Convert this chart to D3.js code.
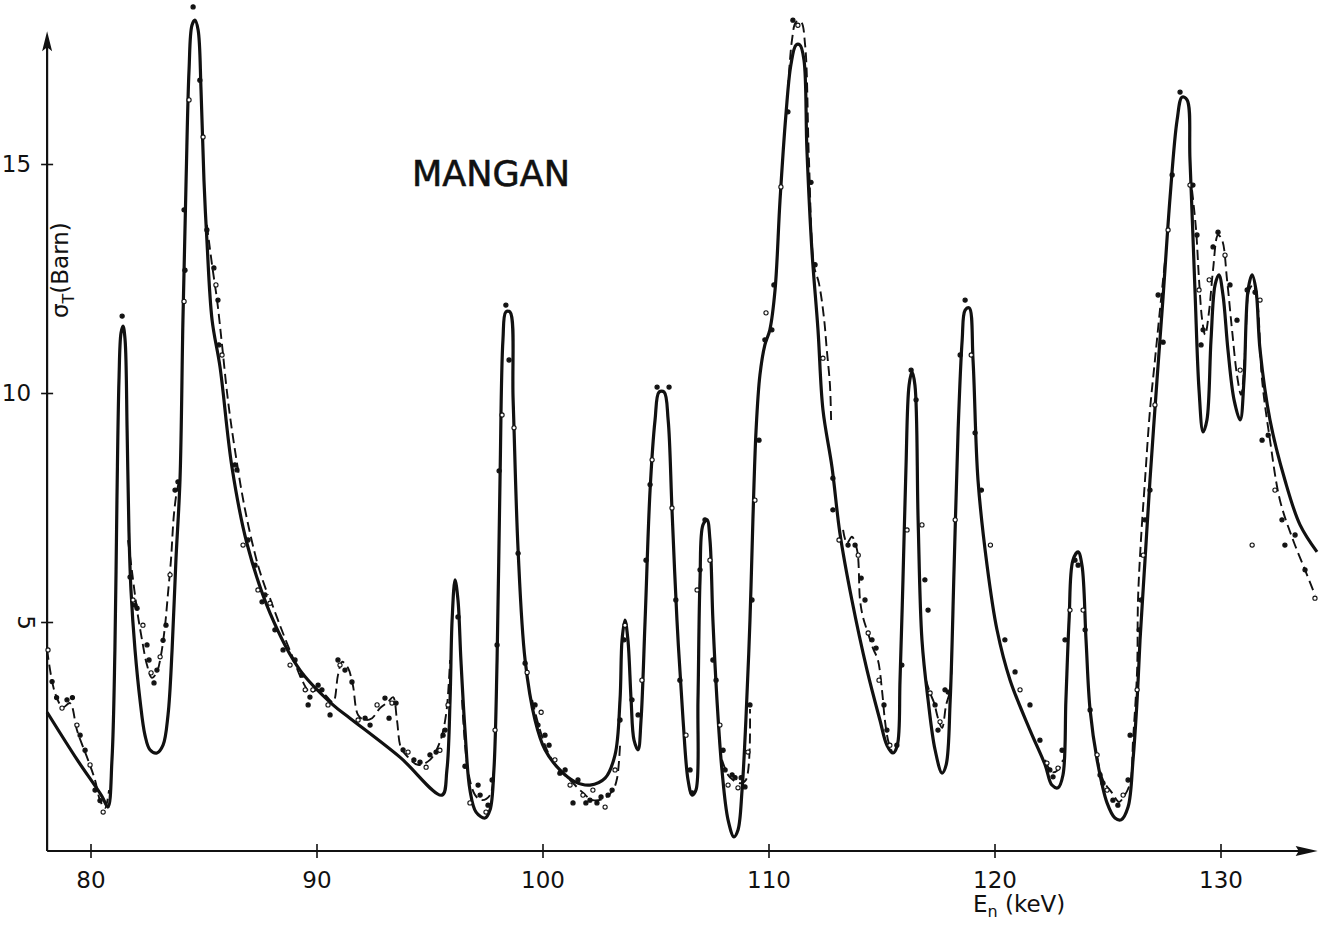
<!DOCTYPE html>
<html><head><meta charset="utf-8">
<script src="https://cdn.jsdelivr.net/npm/d3@7"></script>
<style>body{margin:0;background:#fff}svg{display:block}</style>
</head><body><svg id="c" width="1322" height="930"></svg>
<script>
const xTicks=[80,90,100,110,120,130];
const yTicks=[5,10,15];
const xRange=[78.08,134.3];
const yTop=17.9;
// theoretical (solid) curve: [E keV, sigma barn]
const theory=[[78.08,3.03],[79.4,2.0],[80.5,1.2],[80.77,0.96],[80.95,1.99],[81.08,4.39],[81.17,7.66],[81.26,10.28],[81.35,11.31],[81.44,11.46],[81.53,11.16],[81.62,9.19],[81.7,7.01],[81.79,5.7],[81.97,4.39],[82.19,3.3],[82.41,2.53],[82.63,2.21],[82.94,2.14],[83.21,2.31],[83.43,2.97],[83.61,4.39],[83.78,6.35],[83.96,8.1],[84.09,11.59],[84.23,14.65],[84.36,17.05],[84.49,18.03],[84.62,18.14],[84.76,17.93],[84.89,16.62],[85.02,14.65],[85.15,13.34],[85.38,11.59],[85.73,10.57],[86.26,8.38],[86.92,6.72],[87.94,5.2],[89.27,3.95],[90.73,3.19],[91.48,2.9],[93.69,2.05],[95.55,1.22],[95.77,1.77],[95.91,3.3],[96.0,5.04],[96.13,5.92],[96.26,5.48],[96.39,4.17],[96.57,2.64],[96.79,1.33],[97.06,0.85],[97.46,0.72],[97.68,0.9],[97.85,1.77],[97.99,4.17],[98.12,8.1],[98.25,11.16],[98.38,11.77],[98.56,11.77],[98.7,9.85],[98.92,6.57],[99.23,4.17],[99.67,2.86],[100.11,2.21],[100.77,1.77],[101.44,1.51],[102.1,1.44],[102.77,1.59],[103.21,2.1],[103.43,3.3],[103.52,4.61],[103.65,5.04],[103.78,4.61],[103.92,3.3],[104.05,2.42],[104.23,2.21],[104.36,2.86],[104.54,5.04],[104.76,7.88],[104.98,9.41],[105.16,10.02],[105.38,10.02],[105.56,9.41],[105.73,7.45],[105.95,5.04],[106.22,2.86],[106.44,1.55],[106.62,1.22],[106.79,1.33],[106.88,3.3],[106.97,5.92],[107.1,7.12],[107.28,7.23],[107.41,6.79],[107.54,5.04],[107.72,3.3],[107.94,1.77],[108.21,0.68],[108.47,0.31],[108.65,0.46],[108.83,1.33],[109.0,2.86],[109.18,5.04],[109.31,7.23],[109.45,9.19],[109.62,10.39],[109.84,11.05],[110.06,11.38],[110.29,12.25],[110.51,14.21],[110.77,16.07],[110.99,17.16],[111.22,17.6],[111.39,17.6],[111.57,17.27],[111.7,15.31],[111.92,13.12],[112.19,11.38],[112.41,9.63],[112.81,8.38],[113.16,6.94],[113.69,5.48],[114.36,3.95],[114.93,2.86],[115.24,2.31],[115.51,2.14],[115.7,2.31],[115.82,3.73],[115.95,5.92],[116.08,8.32],[116.22,10.17],[116.35,10.46],[116.48,10.17],[116.62,7.23],[116.79,4.61],[117.06,3.3],[117.37,2.21],[117.68,1.7],[117.86,1.88],[118.04,3.3],[118.21,6.14],[118.39,9.19],[118.57,11.16],[118.7,11.81],[118.88,11.86],[119.05,10.72],[119.27,8.1],[119.67,6.24],[120.11,4.83],[120.69,3.73],[121.57,2.64],[122.24,1.88],[122.54,1.44],[122.81,1.38],[123.03,1.66],[123.16,3.3],[123.3,5.04],[123.47,6.35],[123.7,6.53],[123.87,6.24],[124.05,4.61],[124.23,3.08],[124.54,1.99],[124.98,1.05],[125.33,0.72],[125.6,0.68],[125.91,0.96],[126.13,1.99],[126.31,3.3],[126.44,4.61],[126.66,6.35],[126.88,8.1],[127.19,10.28],[127.46,12.1],[127.77,14.28],[128.08,15.96],[128.3,16.46],[128.52,16.4],[128.65,15.09],[128.87,12.25],[129.05,10.07],[129.23,9.15],[129.4,9.41],[129.58,11.16],[129.76,12.36],[129.93,12.58],[130.11,12.14],[130.33,10.94],[130.6,9.85],[130.87,9.41],[131.04,10.28],[131.22,12.25],[131.4,12.58],[131.57,12.25],[131.75,10.94],[132.19,9.41],[132.85,8.1],[133.52,7.12],[134.27,6.53]];
// experimental (dashed) curve, visible stretches
const expA=[[78.08,4.39],[78.43,3.45],[78.78,3.14],[79.09,3.23],[79.4,2.64],[79.67,2.27],[79.89,1.99],[80.2,1.55],[80.42,1.11],[80.64,0.94],[80.82,1.33]];
const expB=[[81.66,6.79],[81.84,6.09],[82.06,5.26],[82.28,4.61],[82.5,4.06],[82.72,3.78],[82.94,3.91],[83.12,4.28],[83.3,4.93],[83.43,5.63],[83.56,6.35],[83.69,7.34],[83.83,7.88],[83.96,8.14]];
const expC=[[85.15,13.67],[85.38,12.79],[85.6,12.03],[85.82,11.05],[86.08,9.85],[86.39,8.76],[86.84,7.45],[87.41,6.24],[87.85,5.59]];
const expD=[[87.94,5.52],[88.38,4.93],[88.96,4.21],[89.36,3.73],[89.71,3.47],[90.07,3.52],[90.38,3.41],[90.73,3.25],[90.95,3.84],[91.13,4.13],[91.39,4.0],[91.61,3.62],[91.84,2.97],[92.15,2.86],[92.46,2.9],[92.81,3.12],[93.16,3.25],[93.39,3.36],[93.56,2.86],[93.74,2.25],[94.05,2.05],[94.49,1.88],[95.02,1.99],[95.46,2.38],[95.73,2.97],[95.91,4.17]];
const expE=[[96.44,3.3],[96.7,1.77],[97.02,1.22],[97.32,1.11],[97.68,1.22],[97.85,1.77]];
const expF=[[99.54,3.3],[99.89,2.64],[100.24,2.16],[100.64,1.83],[101.22,1.55],[101.79,1.27],[102.23,1.11],[102.77,1.16],[103.12,1.33],[103.3,1.59],[103.43,2.31]];
const expG=[[107.94,1.99],[108.21,1.66],[108.43,1.55],[108.74,1.48],[109.0,1.55],[109.18,3.1]];
const expH=[[110.86,16.62],[111.04,17.71],[111.22,18.1],[111.44,18.1],[111.62,17.6],[111.79,15.09],[112.01,12.79],[112.23,12.4],[112.45,11.66],[112.58,10.94],[112.72,10.17],[112.77,9.41]];
const expI=[[113.3,7.01],[113.47,6.72],[113.69,6.86],[113.92,6.57],[114.05,5.48],[114.18,5.11],[114.4,4.76],[114.62,4.43],[114.84,4.17],[115.02,3.52],[115.15,2.86],[115.29,2.42],[115.47,2.16]];
const expJ=[[116.97,3.73],[117.15,3.45],[117.33,3.23],[117.5,2.9],[117.68,2.69],[117.86,3.19],[118.04,3.52],[118.12,4.61]];
const expK=[[122.24,1.99],[122.54,1.72],[122.81,1.77],[123.03,1.99]];
const expL=[[124.54,2.05],[124.8,1.55],[125.2,1.27],[125.51,1.07],[125.69,1.16],[126.0,1.48],[126.13,2.42],[126.31,3.95],[126.35,5.48],[126.48,6.79],[126.66,8.1],[126.88,9.63],[127.1,10.72],[127.32,11.81],[127.55,12.9]];
const expM=[[128.74,14.43],[128.92,13.56],[129.05,12.47],[129.19,11.59],[129.32,11.27],[129.5,11.81],[129.67,12.69],[129.89,13.45],[130.07,13.34],[130.29,12.47],[130.51,11.38],[130.73,10.39],[130.91,9.96],[131.09,10.94],[131.27,12.25],[131.44,12.36],[131.62,12.03],[131.84,10.28],[132.19,8.97],[132.63,7.66],[133.21,6.79],[133.74,6.14],[134.18,5.59]];
const experiment=[expA,expB,expC,expD,expE,expF,expG,expH,expI,expJ,expK,expL,expM];
// measured points
const points=[[78.12,4.39],[78.3,3.7],[78.5,3.35],[78.74,3.12],[78.96,3.3],[79.2,3.35],[79.4,2.75],[79.54,2.53],[79.76,2.2],[79.98,1.88],[80.2,1.33],[80.42,1.1],[80.56,0.85],[81.4,11.68],[81.75,5.98],[81.88,5.48],[81.97,5.37],[82.06,5.3],[82.32,4.93],[82.5,4.5],[82.59,4.17],[82.68,3.89],[82.81,3.67],[82.94,3.95],[83.08,4.24],[83.21,4.6],[83.34,4.93],[83.52,6.03],[83.74,7.88],[83.87,8.06],[84.14,12.0],[84.18,12.68],[84.14,14.0],[84.36,16.4],[84.54,18.43],[84.84,16.83],[84.98,15.59],[85.15,13.56],[85.46,12.73],[85.55,12.36],[85.64,12.03],[85.68,11.05],[85.82,10.83],[86.39,8.43],[86.48,8.32],[86.75,6.68],[86.97,6.79],[87.28,6.24],[87.41,5.7],[87.59,5.44],[87.72,5.59],[87.94,5.41],[88.16,4.83],[88.52,4.39],[88.83,4.06],[89.05,4.17],[89.36,3.84],[89.5,3.52],[89.71,3.36],[89.63,3.19],[89.84,3.52],[90.07,3.62],[90.24,3.52],[90.51,3.19],[90.6,2.97],[90.95,4.17],[91.04,4.06],[91.26,3.95],[91.57,3.69],[91.84,2.86],[92.15,2.9],[92.37,2.75],[92.68,3.19],[93.03,3.34],[93.21,2.9],[93.34,3.23],[93.52,3.23],[93.83,2.21],[94.05,2.16],[94.31,1.99],[94.58,1.94],[94.85,1.83],[95.02,2.1],[95.29,2.16],[95.46,2.2],[95.6,2.53],[95.69,2.64],[95.82,3.19],[96.26,5.11],[96.57,1.85],[96.79,1.05],[97.15,1.44],[97.24,1.22],[97.5,0.85],[97.59,1.0],[97.77,1.55],[97.9,2.64],[97.99,4.5],[98.08,8.3],[98.21,9.52],[98.38,11.92],[98.52,10.72],[98.74,9.24],[98.92,6.5],[99.23,4.1],[99.32,3.9],[99.67,3.19],[99.8,2.75],[99.94,3.03],[100.11,2.53],[100.29,2.31],[100.55,1.99],[100.77,1.7],[101.0,1.77],[101.22,1.44],[101.35,1.05],[101.57,1.55],[101.79,1.22],[101.92,1.05],[102.1,1.11],[102.23,1.33],[102.41,1.05],[102.59,1.18],[102.77,0.96],[102.9,1.22],[103.08,1.33],[103.21,1.77],[103.43,2.86],[103.61,4.61],[103.65,4.93],[103.96,3.3],[104.23,2.97],[104.4,3.73],[104.58,6.35],[104.76,8.0],[104.85,8.54],[105.07,10.13],[105.6,10.13],[105.73,7.49],[105.9,5.48],[106.08,3.73],[106.35,2.53],[106.53,1.77],[106.62,1.27],[106.84,5.7],[106.97,6.14],[107.19,7.23],[107.41,6.35],[107.54,4.17],[107.68,3.73],[107.85,2.75],[107.99,2.2],[108.08,1.77],[108.21,1.44],[108.39,1.66],[108.52,1.6],[108.65,1.38],[108.79,1.6],[108.96,1.4],[109.09,2.16],[109.18,3.19],[109.27,5.48],[109.4,7.66],[109.58,8.97],[109.84,11.16],[109.89,11.75],[110.15,11.38],[110.24,12.36],[110.55,14.5],[110.86,16.14],[111.08,18.14],[111.3,18.03],[111.88,14.6],[112.06,12.8],[112.41,10.76],[112.85,8.14],[112.85,7.45],[113.12,6.79],[113.52,6.68],[113.83,6.68],[113.97,6.46],[114.1,5.96],[114.27,5.48],[114.41,4.76],[114.58,4.61],[114.76,4.43],[114.89,3.73],[115.11,3.19],[115.24,2.64],[115.37,2.31],[115.68,2.31],[115.9,4.06],[116.13,7.01],[116.31,10.5],[116.53,9.85],[116.79,7.12],[116.92,5.92],[117.06,5.26],[117.15,3.45],[117.37,3.19],[117.5,2.64],[117.59,2.82],[117.81,3.52],[117.95,3.47],[118.26,7.23],[118.48,10.83],[118.7,12.03],[118.97,10.83],[119.14,9.13],[119.42,7.88],[119.82,6.68],[120.46,4.61],[120.91,3.91],[121.13,3.52],[121.57,3.19],[122.01,2.42],[122.32,1.92],[122.45,1.77],[122.59,1.62],[122.81,1.81],[122.99,2.2],[123.12,4.61],[123.34,5.26],[123.56,6.35],[123.7,6.24],[123.92,5.26],[124.01,4.83],[124.23,3.08],[124.54,2.1],[124.67,1.66],[124.8,1.48],[124.98,1.33],[125.24,1.11],[125.46,1.0],[125.69,1.22],[125.91,1.55],[126.0,2.53],[126.31,3.52],[126.4,4.83],[126.49,5.48],[126.58,6.46],[126.66,7.23],[126.88,7.88],[127.1,9.74],[127.24,12.14],[127.46,11.11],[127.68,13.56],[127.86,14.76],[128.21,16.57],[128.65,14.54],[128.78,14.54],[128.96,13.45],[129.05,12.25],[129.14,11.05],[129.23,11.38],[129.5,12.47],[129.67,13.19],[129.89,13.51],[130.2,13.01],[130.42,12.36],[130.73,11.59],[130.87,10.5],[131.18,12.25],[131.53,12.2],[131.75,12.03],[132.11,9.08],[131.84,8.97],[132.41,7.88],[132.72,7.23],[132.85,6.68],[131.4,6.68],[133.3,6.9],[133.74,6.14],[134.18,5.52]];

const svg=d3.select('#c');
const x=d3.scaleLinear().domain([80,130]).range([90.5,1220.5]);
const y=d3.scaleLinear().domain([0,10]).range([851,393]);
const font="'DejaVu Sans', sans-serif";
const ink="#111";

// axes lines
const x0=x(xRange[0]), x1=x(xRange[1]), yb=y(0), yt=y(yTop);
svg.append('line').attr('x1',x0).attr('x2',x1-6).attr('y1',yb).attr('y2',yb).attr('stroke',ink).attr('stroke-width',2.2);
svg.append('line').attr('x1',x0).attr('x2',x0).attr('y1',yb).attr('y2',yt+8).attr('stroke',ink).attr('stroke-width',2.2);
svg.append('path').attr('d',`M${x1},${yb} L${x1-22},${yb-5} L${x1-19},${yb} L${x1-22},${yb+5}Z`).attr('fill',ink);
svg.append('path').attr('d',`M${x0},${yt} L${x0-5},${yt+20} L${x0},${yt+16} L${x0+5},${yt+20}Z`).attr('fill',ink);

const gx=svg.append('g').attr('transform',`translate(0,${yb})`)
  .call(d3.axisBottom(x).tickValues(xTicks).tickSize(7).tickPadding(14).tickFormat(d3.format('d')));
gx.select('.domain').remove();
gx.selectAll('.tick line').attr('y1',-7).attr('y2',7).attr('stroke',ink).attr('stroke-width',1.6);
gx.selectAll('.tick text').attr('font-family',font).attr('font-size',23).attr('fill',ink);

const gy=svg.append('g').attr('transform',`translate(${x0},0)`)
  .call(d3.axisLeft(y).tickValues(yTicks).tickSize(6).tickPadding(10).tickFormat(d3.format('d')));
gy.select('.domain').remove();
gy.selectAll('.tick line').attr('x1',-6).attr('x2',6).attr('stroke',ink).attr('stroke-width',1.6);
gy.selectAll('.tick text').attr('font-family',font).attr('font-size',23).attr('fill',ink);
gy.selectAll('.tick').filter(d=>d===5).select('text')
  .attr('text-anchor','middle').attr('x',0).attr('dy',null)
  .attr('transform','translate(-21,0) rotate(90)').attr('dominant-baseline','central');

// curves
const line=d3.line().x(d=>x(d[0])).y(d=>y(d[1])).curve(d3.curveCatmullRom.alpha(0.5));
svg.append('g').selectAll('path').data(experiment).join('path')
  .attr('d',line).attr('fill','none').attr('stroke',ink).attr('stroke-width',1.9)
  .attr('stroke-dasharray','10,5').attr('stroke-linecap','butt');
svg.append('path').datum(theory).attr('d',line).attr('fill','none')
  .attr('stroke',ink).attr('stroke-width',3.2).attr('stroke-linejoin','round');

svg.append('g').selectAll('circle').data(points).join('circle')
  .attr('cx',d=>x(d[0])).attr('cy',d=>y(d[1])).attr('r',2.1)
  .attr('fill',(d,i)=>i%3===0?'#fff':ink).attr('stroke',ink).attr('stroke-width',1.1);

// titles
svg.append('text').attr('x',412).attr('y',186).attr('font-family',font).attr('font-size',36)
  .attr('textLength',158).attr('lengthAdjust','spacingAndGlyphs').attr('fill',ink)
  .attr('stroke',ink).attr('stroke-width',0.6).text('MANGAN');

const yl=svg.append('text').attr('transform','translate(68,318) rotate(-90)')
  .attr('font-family',font).attr('font-size',23).attr('fill',ink);
yl.append('tspan').text('σ');
yl.append('tspan').attr('font-size',16).attr('dy',6).text('T');
yl.append('tspan').attr('dy',-6).text('(Barn)');

const xl=svg.append('text').attr('x',973).attr('y',912)
  .attr('font-family',font).attr('font-size',23).attr('fill',ink);
xl.append('tspan').text('E');
xl.append('tspan').attr('font-size',16).attr('dy',5).text('n');
xl.append('tspan').attr('dy',-5).text(' (keV)');
</script></body></html>
